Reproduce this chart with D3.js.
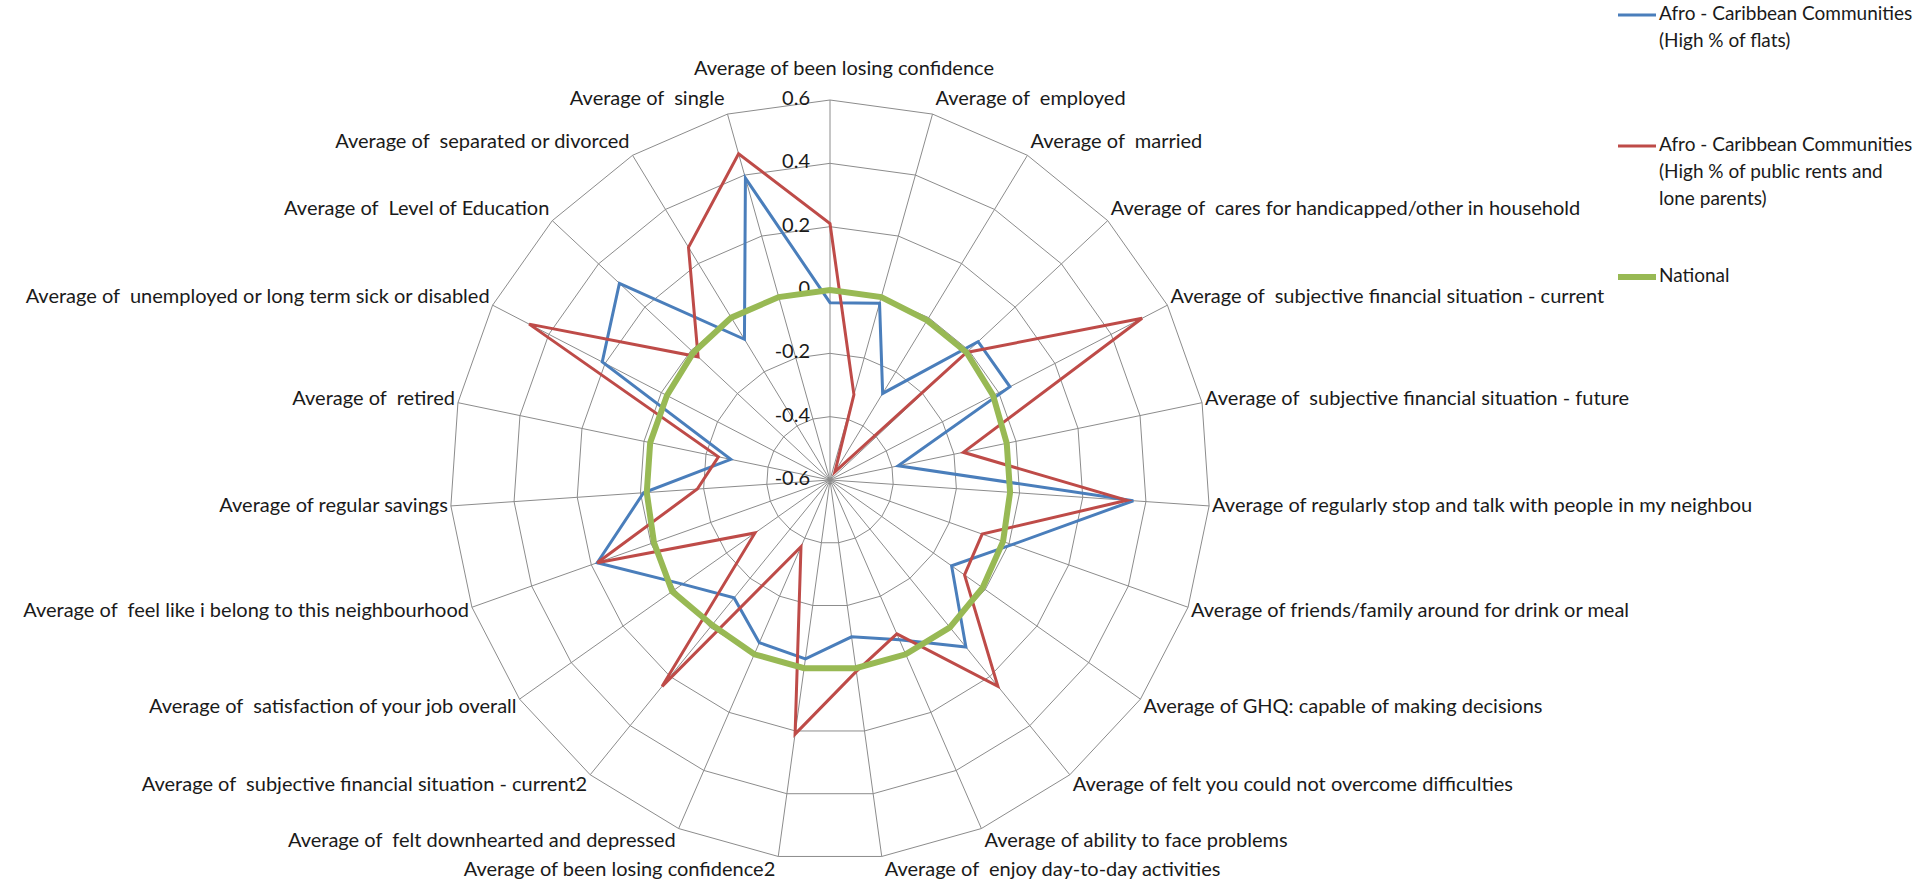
<!DOCTYPE html>
<html>
<head>
<meta charset="utf-8">
<script src="https://cdn.jsdelivr.net/npm/d3@7"></script>
<style>
  body { margin: 0; background: #fff; }
  text { font-family: Lato, "Open Sans", sans-serif; fill: #1a1a1a; white-space: pre; }
</style>
</head>
<body>
<svg id="chart" width="1924" height="883"></svg>
<script>
const categories = [
  "Average of been losing confidence",
  "Average of  employed",
  "Average of  married",
  "Average of  cares for handicapped/other in household",
  "Average of  subjective financial situation - current",
  "Average of  subjective financial situation - future",
  "Average of regularly stop and talk with people in my neighbou",
  "Average of friends/family around for drink or meal",
  "Average of GHQ: capable of making decisions",
  "Average of felt you could not overcome difficulties",
  "Average of ability to face problems",
  "Average of  enjoy day-to-day activities",
  "Average of been losing confidence2",
  "Average of  felt downhearted and depressed",
  "Average of  subjective financial situation - current2",
  "Average of  satisfaction of your job overall",
  "Average of  feel like i belong to this neighbourhood",
  "Average of regular savings",
  "Average of  retired",
  "Average of  unemployed or long term sick or disabled",
  "Average of  Level of Education",
  "Average of  separated or divorced",
  "Average of  single"
];

const flats = [-0.04, -0.02, -0.28, 0.04, 0.04, -0.38, 0.36, 0.01, -0.13, 0.08, -0.05, -0.10,
               -0.03, -0.04, -0.12, -0.03, 0.18, -0.01, -0.28, 0.21, 0.31, -0.08, 0.39];
const publicRents = [0.21, -0.32, -0.57, -0.01, 0.51, -0.17, 0.34, -0.09, -0.08, 0.24, -0.07, 0.01,
                     0.21, -0.37, 0.24, -0.31, 0.18, -0.18, -0.24, 0.47, -0.03, 0.26, 0.47];
const national = [0.0, 0.0, -0.01, -0.01, -0.02, -0.03, -0.03, -0.02, -0.01, 0.0, 0.0, 0.0,
                  0.0, 0.0, -0.01, 0.01, -0.01, -0.02, -0.02, -0.02, -0.01, 0.0, 0.0];

const tickValues = [-0.6, -0.4, -0.2, 0, 0.2, 0.4, 0.6];
const tickLabels = ["-0.6", "-0.4", "-0.2", "0", "0.2", "0.4", "0.6"];

const seriesNames = [
  ["Afro - Caribbean Communities", "(High % of flats)"],
  ["Afro - Caribbean Communities", "(High % of public rents and", "lone parents)"],
  ["National"]
];
const seriesColors = ["#4a7ebb", "#be4b48", "#98b954"];

const svg = d3.select("#chart");
const cx = 830, cy = 480, R = 380;
const n = categories.length;

const r = d3.scaleLinear().domain([-0.6, 0.6]).range([0, R]);
const angle = d3.scaleLinear().domain([0, n]).range([0, 2 * Math.PI]);

const g = svg.append("g").attr("transform", `translate(${cx},${cy})`);

// grid rings
const ring = d3.lineRadial()
  .angle((d, i) => angle(i))
  .radius(d => r(d))
  .curve(d3.curveLinearClosed);

tickValues.slice(1).forEach(t => {
  g.append("path")
    .attr("d", ring(d3.range(n).map(() => t)))
    .attr("fill", "none")
    .attr("stroke", "#8c8c8c")
    .attr("stroke-width", 1);
});

// spokes
g.selectAll("line.spoke")
  .data(d3.range(n))
  .join("line")
  .attr("class", "spoke")
  .attr("x1", 0).attr("y1", 0)
  .attr("x2", i => r(0.6) * Math.sin(angle(i)))
  .attr("y2", i => -r(0.6) * Math.cos(angle(i)))
  .attr("stroke", "#8c8c8c")
  .attr("stroke-width", 1);

// tick labels along the first axis
g.selectAll("text.tick")
  .data(tickValues)
  .join("text")
  .attr("class", "tick")
  .attr("x", -20)
  .attr("y", d => -r(d))
  .attr("text-anchor", "end")
  .attr("dominant-baseline", "middle")
  .style("font-size", "20px")
  .text((d, i) => tickLabels[i]);

// category labels
g.selectAll("text.cat")
  .data(categories)
  .join("text")
  .attr("class", "cat")
  .attr("x", (d, i) => {
    const s = Math.sin(angle(i));
    return r(0.6) * s + (Math.abs(s) < 0.01 ? 14 : (s > 0 ? 3 : -3));
  })
  .attr("y", (d, i) => {
    const c = Math.cos(angle(i));
    return -r(0.6) * c - c * 15 - (i === 0 ? 15 : 0);
  })
  .attr("text-anchor", (d, i) => {
    const s = Math.sin(angle(i));
    return Math.abs(s) < 0.01 ? "middle" : (s > 0 ? "start" : "end");
  })
  .attr("dominant-baseline", "middle")
  .style("font-size", "20px")
  .text(d => d);

// series
const line = d3.lineRadial()
  .angle((d, i) => angle(i))
  .radius(d => r(d))
  .curve(d3.curveLinearClosed);

[flats, publicRents, national].forEach((vals, k) => {
  g.append("path")
    .attr("d", line(vals))
    .attr("fill", "none")
    .attr("stroke", seriesColors[k])
    .attr("stroke-width", k === 2 ? 6 : 3)
    .attr("stroke-linejoin", "miter");
});

// legend
const legendY = [15, 146, 277];
const legend = svg.append("g");
seriesNames.forEach((lines, k) => {
  legend.append("line")
    .attr("x1", 1618).attr("x2", 1656)
    .attr("y1", legendY[k]).attr("y2", legendY[k])
    .attr("stroke", seriesColors[k])
    .attr("stroke-width", k === 2 ? 6 : 3);
  lines.forEach((t, j) => {
    legend.append("text")
      .attr("x", 1659)
      .attr("y", legendY[k] + j * 27)
      .attr("dominant-baseline", "middle")
      .style("font-size", "19px")
      .text(t);
  });
});
</script>
</body>
</html>
